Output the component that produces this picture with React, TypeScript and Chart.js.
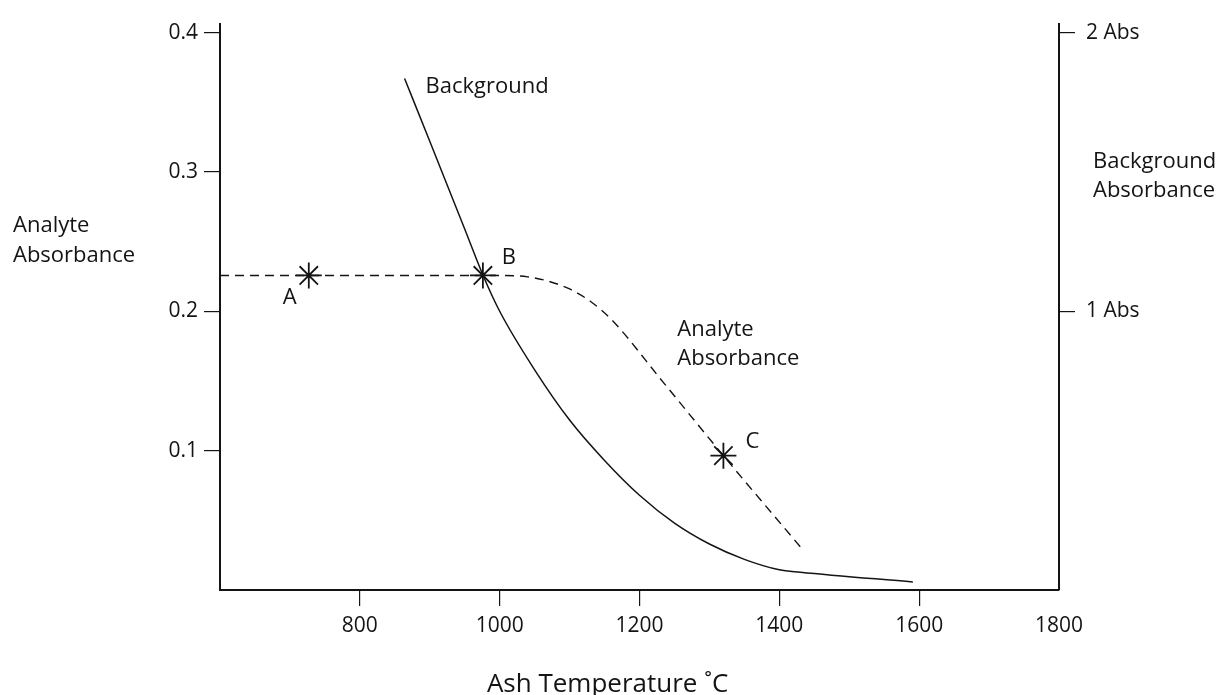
import { useEffect, useRef } from 'react';
import { Chart, registerables } from 'chart.js';
Chart.register(...registerables);

const X_MIN = 600;
const X_MAX = 1800;
const Y_MAX = 0.4064;
const X_TICKS = [800, 1000, 1200, 1400, 1600, 1800];
const Y_TICKS = [0.1, 0.2, 0.3, 0.4];
const Y2_TICKS = [1, 2];
const Y2_LABELS = ['1 Abs', '2 Abs'];

// Background absorbance curve (solid)
const bgTemp = [864, 900, 950, 976, 1000, 1050, 1100, 1150, 1200, 1250, 1300, 1350, 1400, 1430, 1591];
const bgAbs = [0.367, 0.322, 0.259, 0.226, 0.2, 0.158, 0.122, 0.093, 0.068, 0.048, 0.033, 0.022, 0.0145, 0.0128, 0.0057];

// Analyte absorbance curve (dashed)
const anTemp = [600, 1000, 1040, 1070, 1100, 1130, 1160, 1234, 1320, 1430];
const anAbs = [0.2257, 0.2257, 0.2247, 0.2215, 0.216, 0.207, 0.194, 0.149, 0.0964, 0.031];

// Marked points
const markTemp = [727, 976, 1320];
const markAbs = [0.2257, 0.2257, 0.0964];
const markLabels = ['A', 'B', 'C'];

const FONT = '"Open Sans", "DejaVu Sans", sans-serif';
const INK = '#141414';

export default function App() {
  const ref = useRef<HTMLCanvasElement>(null);

  useEffect(() => {
    if (!ref.current) return;

    const textPlugin = {
      id: 'annotTexts',
      afterDraw(chart: any) {
        const ctx = chart.ctx as CanvasRenderingContext2D;
        const xs = chart.scales.x;
        const ys = chart.scales.y;
        const ca = chart.chartArea;
        ctx.save();
        ctx.fillStyle = INK;
        ctx.textBaseline = 'alphabetic';
        ctx.font = `22px ${FONT}`;

        // point labels A, B, C
        const offs = [
          [-19, 29],
          [26, -11],
          [29, -8],
        ];
        ctx.textAlign = 'center';
        markLabels.forEach((lab, i) => {
          const px = xs.getPixelForValue(markTemp[i]);
          const py = ys.getPixelForValue(markAbs[i]);
          ctx.fillText(lab, px + offs[i][0], py + offs[i][1]);
        });

        // curve labels
        ctx.textAlign = 'left';
        const bx = xs.getPixelForValue(bgTemp[0]);
        const by = ys.getPixelForValue(bgAbs[0]);
        ctx.fillText('Background', bx + 21, by + 14);

        const ax = xs.getPixelForValue(1254);
        const ay = ys.getPixelForValue(0.182);
        ctx.fillText('Analyte', ax, ay);
        ctx.fillText('Absorbance', ax, ay + 29);

        // left axis title
        ctx.fillText('Analyte', 13, 232);
        ctx.fillText('Absorbance', 13, 262);

        // right axis title
        ctx.fillText('Background', ca.right + 34, 168);
        ctx.fillText('Absorbance', ca.right + 34, 197);

        // x axis title
        ctx.font = `26px ${FONT}`;
        ctx.textAlign = 'center';
        ctx.fillText('Ash Temperature ˚C', ca.left + (ca.right - ca.left) * 0.462, 692);
        ctx.restore();
      },
    };

    const tickFont = { family: FONT, size: 21 };

    const chart = new Chart(ref.current, {
      type: 'scatter',
      data: {
        datasets: [
          {
            label: 'Background',
            data: bgTemp.map((t, i) => ({ x: t, y: bgAbs[i] })),
            showLine: true,
            borderColor: INK,
            borderWidth: 1.5,
            pointRadius: 0,
            cubicInterpolationMode: 'monotone',
            fill: false,
          },
          {
            label: 'Analyte Absorbance',
            data: anTemp.map((t, i) => ({ x: t, y: anAbs[i] })),
            showLine: true,
            borderColor: INK,
            borderWidth: 1.4,
            borderDash: [9, 6],
            pointRadius: 0,
            cubicInterpolationMode: 'monotone',
            fill: false,
          },
          {
            label: 'Points',
            data: markTemp.map((t, i) => ({ x: t, y: markAbs[i] })),
            showLine: false,
            pointStyle: 'star',
            pointRadius: 13,
            pointBorderWidth: 1.8,
            pointBorderColor: INK,
            pointBackgroundColor: INK,
          },
        ],
      },
      options: {
        animation: false,
        responsive: true,
        maintainAspectRatio: false,
        layout: { padding: { top: 21, left: 0, right: 0, bottom: 0 } },
        plugins: { legend: { display: false }, tooltip: { enabled: false } },
        scales: {
          x: {
            type: 'linear',
            min: X_MIN,
            max: X_MAX,
            afterBuildTicks: (s: any) => {
              s.ticks = X_TICKS.map((v) => ({ value: v }));
            },
            afterFit: (s: any) => {
              s.height = 105;
            },
            grid: {
              drawOnChartArea: false,
              drawTicks: true,
              tickLength: 16,
              lineWidth: 1.2,
              color: (c: any) => (c.tick && c.tick.value === X_MAX ? 'rgba(0,0,0,0)' : INK),
            },
            border: { display: true, color: INK, width: 2 },
            ticks: {
              color: INK,
              font: tickFont,
              padding: 7,
              maxRotation: 0,
              autoSkip: false,
              callback: (v: any) => String(v),
            },
          },
          y: {
            type: 'linear',
            position: 'left',
            min: 0,
            max: Y_MAX,
            afterBuildTicks: (s: any) => {
              s.ticks = Y_TICKS.map((v) => ({ value: v }));
            },
            afterFit: (s: any) => {
              s.width = 220;
            },
            grid: { drawOnChartArea: false, drawTicks: true, tickLength: 16, lineWidth: 1.2, color: INK },
            border: { display: true, color: INK, width: 2 },
            ticks: {
              color: INK,
              font: tickFont,
              padding: 6,
              autoSkip: false,
              callback: (v: any) => Number(v).toFixed(1),
            },
          },
          y2: {
            type: 'linear',
            position: 'right',
            min: 0,
            max: Y_MAX * 5,
            afterBuildTicks: (s: any) => {
              s.ticks = Y2_TICKS.map((v) => ({ value: v }));
            },
            afterFit: (s: any) => {
              s.width = 1221 - 1059;
            },
            grid: { drawOnChartArea: false, drawTicks: true, tickLength: 16, lineWidth: 1.2, color: INK },
            border: { display: true, color: INK, width: 2 },
            ticks: {
              color: INK,
              font: tickFont,
              padding: 11,
              autoSkip: false,
              callback: (v: any) => {
                const i = Y2_TICKS.indexOf(Number(v));
                return i >= 0 ? Y2_LABELS[i] : '';
              },
            },
          },
        },
      },
      plugins: [textPlugin],
    } as any);

    return () => chart.destroy();
  }, []);

  return (
    <div style={{ position: 'fixed', left: 0, top: 0, width: 1221, height: 695, background: '#fff' }}>
      <canvas ref={ref} />
    </div>
  );
}
